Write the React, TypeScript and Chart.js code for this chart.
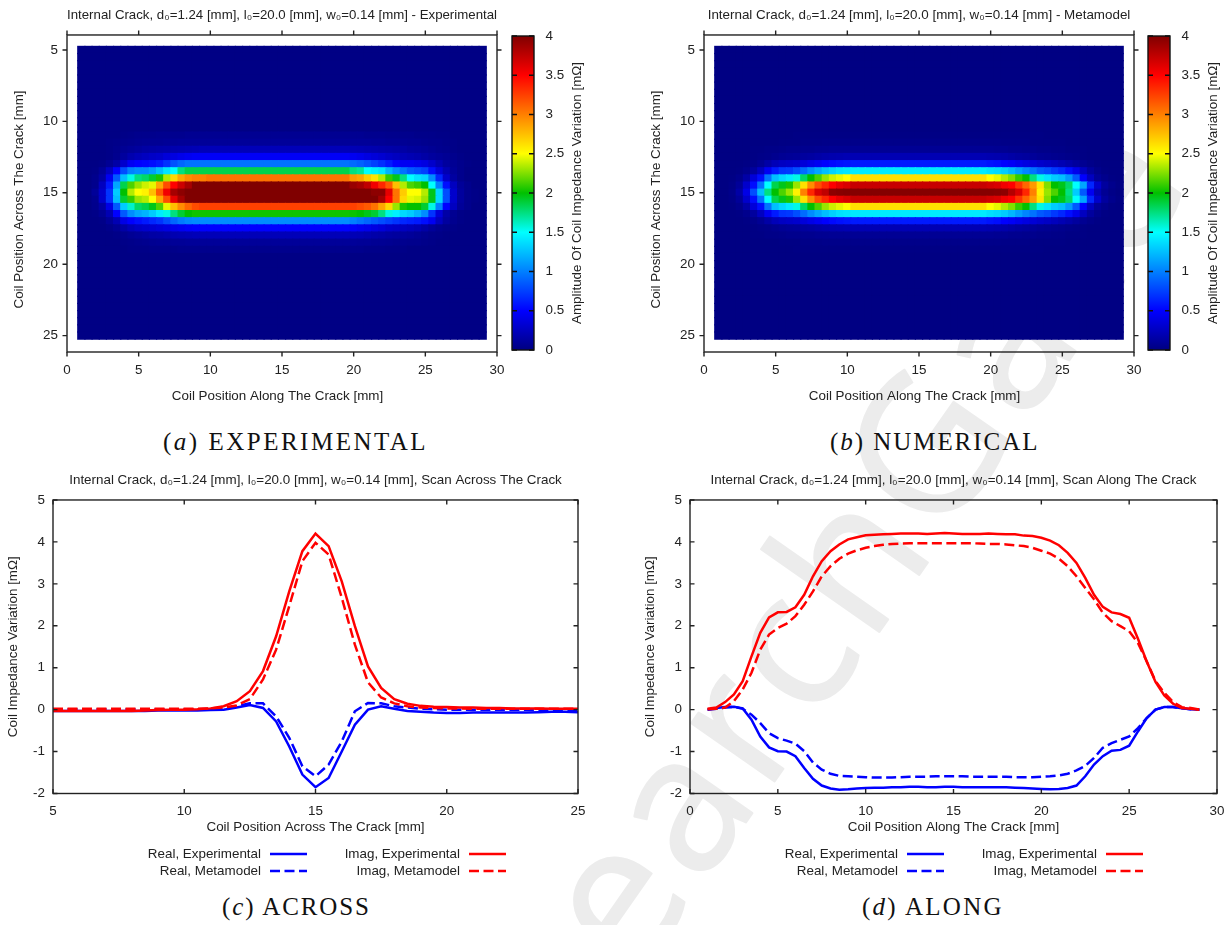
import React, { useEffect, useRef } from "react";
import { Chart, registerables } from "chart.js";

Chart.register(...registerables);

// ---------- heat map values [mΩ] ----------
const heatX = [1,1.5,2,2.5,3,3.5,4,4.5,5,5.5,6,6.5,7,7.5,8,8.5,9,9.5,10,10.5,11,11.5,12,12.5,13,13.5,14,14.5,15,15.5,16,16.5,17,17.5,18,18.5,19,19.5,20,20.5,21,21.5,22,22.5,23,23.5,24,24.5,25,25.5,26,26.5,27,27.5,28,28.5,29];
const heatY = [5,5.5,6,6.5,7,7.5,8,8.5,9,9.5,10,10.5,11,11.5,12,12.5,13,13.5,14,14.5,15,15.5,16,16.5,17,17.5,18,18.5,19,19.5,20,20.5,21,21.5,22,22.5,23,23.5,24,24.5,25];
const bandY = [11,11.5,12,12.5,13,13.5,14,14.5,15,15.5,16,16.5,17,17.5,18,18.5,19];
const expBackground = 0.02;
const simBackground = 0.01;

const expLeft = [
  [.02,.02,.02,.02,.02,.02,.03,.04,.05,.05,.05,.06,.06,.06,.06,.07,.07,.07,.07],
  [.02,.02,.02,.02,.03,.04,.05,.06,.07,.08,.08,.08,.09,.09,.1,.1,.1,.1,.1],
  [.02,.02,.02,.02,.03,.05,.08,.1,.12,.14,.15,.16,.17,.18,.19,.2,.21,.22,.22],
  [.02,.02,.02,.02,.03,.06,.12,.18,.22,.25,.28,.3,.35,.38,.42,.45,.47,.47,.47],
  [.02,.02,.02,.03,.08,.15,.3,.45,.5,.52,.55,.6,.7,.82,.9,.95,.95,.95,.95],
  [.02,.02,.03,.1,.25,.5,.8,1,1.05,1.05,1.12,1.25,1.4,1.5,1.75,1.85,1.85,1.85,1.85],
  [.02,.02,.05,.15,.45,.85,1.25,1.55,1.75,1.8,1.9,2.05,2.35,2.65,2.85,2.95,3,3,3.05],
  [.02,.02,.05,.25,.6,1.15,1.85,2.15,2.3,2.4,2.45,2.85,3.2,3.5,3.7,3.85,4,4,4],
  [.02,.02,.1,.3,.7,1.3,2,2.35,2.5,2.55,2.75,3.15,3.55,3.85,3.95,4,4,4,4],
  [.02,.02,.06,.3,.7,1.25,1.9,2.1,2.3,2.35,2.5,2.85,3.2,3.6,3.85,4,4,4,4],
  [.02,.02,.05,.15,.4,.85,1.3,1.6,1.8,1.85,1.95,2.15,2.45,2.75,2.95,3.1,3.2,3.25,3.25],
  [.02,.02,.03,.08,.2,.5,.85,1.05,1.15,1.2,1.3,1.42,1.55,1.75,1.9,2,2.03,2.03,2.03],
  [.02,.02,.02,.03,.1,.2,.4,.5,.55,.6,.65,.7,.8,.9,.98,1.03,1.05,1.05,1.05],
  [.02,.02,.02,.02,.04,.08,.15,.22,.27,.3,.32,.35,.38,.42,.45,.48,.5,.5,.5],
  [.02,.02,.02,.02,.02,.03,.05,.08,.1,.12,.14,.15,.17,.19,.2,.21,.22,.22,.22],
  [.02,.02,.02,.02,.02,.02,.03,.04,.05,.06,.07,.08,.08,.09,.09,.1,.1,.1,.1],
  [.02,.02,.02,.02,.02,.02,.02,.03,.03,.03,.04,.04,.04,.04,.05,.05,.05,.05,.05],
];
const expPlateau = [.07,.1,.22,.47,.95,1.85,3.05,4,4,4,3.25,2.03,1.05,.5,.22,.1,.05];
const expRight = [
  [.07,.07,.06,.06,.06,.05,.05,.05,.05,.04,.04,.04,.03,.03,.02,.02,.02,.02,.02],
  [.1,.1,.1,.09,.09,.08,.08,.08,.07,.07,.06,.05,.05,.04,.03,.02,.02,.02,.02],
  [.21,.2,.19,.18,.17,.16,.15,.14,.12,.11,.1,.08,.06,.05,.03,.02,.02,.02,.02],
  [.45,.42,.38,.35,.32,.28,.25,.22,.2,.18,.15,.12,.1,.08,.05,.03,.02,.02,.02],
  [.92,.88,.82,.75,.68,.6,.5,.45,.45,.42,.38,.3,.2,.12,.08,.05,.03,.02,.02],
  [1.75,1.7,1.5,1.45,1.4,1.2,1.05,.95,.85,.8,.75,.55,.35,.2,.1,.05,.02,.02,.02],
  [2.9,2.85,2.7,2.6,2.35,2.1,1.95,1.75,1.5,1.4,1.35,1.05,.65,.3,.13,.05,.02,.02,.02],
  [3.9,3.85,3.75,3.55,3.35,3.15,2.75,2.35,2.15,2.1,2,1.5,1,.55,.25,.1,.05,.02,.02],
  [4,4,4,3.95,3.95,3.6,3.05,2.7,2.5,2.5,2.35,1.95,1.35,.8,.3,.12,.05,.03,.02],
  [4,4,4,4,3.85,3.5,3.05,2.65,2.45,2.42,2.3,1.95,1.35,.8,.3,.12,.05,.03,.02],
  [3.25,3.2,3.15,3.05,2.85,2.65,2.3,2.05,2,2,1.9,1.55,1,.5,.25,.1,.05,.02,.02],
  [2.02,2,1.95,1.9,1.75,1.55,1.45,1.35,1.3,1.2,1.05,.7,.35,.15,.07,.03,.02,.02,.02],
  [1,.95,.9,.85,.8,.75,.7,.65,.62,.6,.55,.45,.25,.12,.06,.03,.02,.02,.02],
  [.48,.45,.42,.38,.35,.3,.28,.25,.23,.2,.15,.1,.06,.04,.03,.02,.02,.02,.02],
  [.21,.2,.18,.16,.15,.13,.12,.11,.1,.08,.06,.04,.03,.02,.02,.02,.02,.02,.02],
  [.1,.09,.09,.08,.08,.07,.06,.06,.05,.05,.04,.03,.02,.02,.02,.02,.02,.02,.02],
  [.05,.05,.04,.04,.04,.03,.03,.03,.02,.02,.02,.02,.02,.02,.02,.02,.02,.02,.02],
];

const simLeft = [
  [.01,.01,.01,.01,.01,.01,.01,.01,.01,.01,.01,.02,.02,.02,.02,.02,.02,.02,.02],
  [.01,.01,.01,.01,.01,.01,.01,.01,.01,.02,.02,.02,.03,.03,.03,.04,.04,.04,.04],
  [.01,.01,.01,.01,.01,.02,.02,.03,.03,.04,.05,.05,.06,.06,.07,.07,.08,.08,.08],
  [.01,.01,.01,.01,.01,.02,.03,.04,.06,.08,.09,.1,.12,.13,.15,.17,.18,.19,.2],
  [.01,.01,.01,.01,.02,.04,.08,.15,.22,.26,.28,.3,.35,.4,.45,.5,.53,.56,.58],
  [.01,.01,.01,.02,.05,.12,.25,.45,.6,.7,.72,.8,.92,1.05,1.15,1.25,1.32,1.38,1.4],
  [.01,.01,.02,.05,.15,.35,.55,.95,1.25,1.35,1.42,1.55,1.8,2,2.15,2.3,2.4,2.45,2.5],
  [.01,.01,.03,.1,.3,.55,.95,1.5,1.85,1.95,2.05,2.3,2.62,2.95,3.2,3.35,3.5,3.6,3.65],
  [.01,.01,.04,.15,.4,.8,1.25,1.75,2,2.15,2.3,2.55,3,3.35,3.65,3.75,3.95,3.97,3.98],
];
const simPlateau = [.02,.04,.08,.2,.6,1.42,2.62,3.72,3.98];
const simRight = [
  [.02,.02,.02,.02,.02,.02,.02,.02,.01,.01,.01,.01,.01,.01,.01,.01,.01,.01,.01],
  [.04,.04,.03,.03,.03,.03,.02,.02,.02,.02,.02,.01,.01,.01,.01,.01,.01,.01,.01],
  [.08,.07,.07,.06,.06,.05,.05,.04,.04,.03,.03,.02,.02,.02,.01,.01,.01,.01,.01],
  [.19,.18,.17,.15,.13,.12,.1,.08,.07,.06,.05,.04,.03,.02,.01,.01,.01,.01,.01],
  [.57,.55,.5,.47,.42,.38,.34,.3,.27,.24,.2,.16,.12,.07,.04,.02,.01,.01,.01],
  [1.38,1.35,1.3,1.22,1.12,1.02,.95,.85,.8,.72,.65,.55,.42,.25,.12,.05,.02,.01,.01],
  [2.5,2.45,2.35,2.25,2.1,2,1.75,1.55,1.4,1.3,1.25,1.1,.85,.5,.25,.1,.05,.02,.01],
  [3.68,3.65,3.55,3.5,3.3,3.1,2.9,2.6,2.25,2,1.95,1.8,1.5,1.15,.65,.3,.12,.05,.02],
  [3.98,3.97,3.95,3.8,3.65,3.35,3,2.55,2.3,2.15,2,1.75,1.3,.85,.45,.2,.08,.03,.01],
];

// ---------- line charts ----------
const acrossX = [5,5.5,6,6.5,7,7.5,8,8.5,9,9.5,10,10.5,11,11.5,12,12.5,13,13.5,14,14.5,15,15.5,16,16.5,17,17.5,18,18.5,19,19.5,20,20.5,21,21.5,22,22.5,23,23.5,24,24.5,25];
const acrossRealExp = [-.03,-.03,-.03,-.03,-.03,-.03,-.03,-.03,-.02,-.02,-.02,-.02,-.01,0,.05,.11,.04,-.28,-.88,-1.55,-1.85,-1.63,-1,-.36,0,.08,.02,-.03,-.05,-.07,-.08,-.08,-.07,-.07,-.07,-.07,-.07,-.06,-.05,-.05,-.06];
const acrossRealMeta = [.01,.01,.01,.01,.01,.01,.01,.01,.01,.01,.01,.01,.02,.03,.08,.15,.15,-.16,-.67,-1.35,-1.59,-1.31,-.76,-.04,.16,.15,.08,.05,.02,.01,0,0,0,0,0,0,0,0,0,0,0];
const acrossImagExp = [-.03,-.03,-.03,-.03,-.03,-.03,-.03,-.02,-.01,0,0,.01,.03,.08,.2,.44,.92,1.75,2.82,3.78,4.2,3.9,3.06,1.99,1.03,.52,.25,.14,.09,.07,.06,.05,.05,.04,.04,.03,.03,.03,.02,.02,.02];
const acrossImagMeta = [.02,.02,.02,.02,.02,.02,.02,.02,.02,.02,.02,.02,.03,.05,.1,.25,.72,1.43,2.47,3.54,3.98,3.7,2.67,1.55,.65,.29,.15,.08,.05,.04,.03,.03,.02,.02,.02,.02,.02,.02,.02,.02,.02];

const alongX = [1,1.5,2,2.5,3,3.5,4,4.5,5,5.5,6,6.5,7,7.5,8,8.5,9,9.5,10,10.5,11,11.5,12,12.5,13,13.5,14,14.5,15,15.5,16,16.5,17,17.5,18,18.5,19,19.5,20,20.5,21,21.5,22,22.5,23,23.5,24,24.5,25,25.5,26,26.5,27,27.5,28,28.5,29];
const alongRealExp = [0,.04,.06,.07,.03,-.24,-.64,-.9,-.99,-1,-1.11,-1.39,-1.65,-1.81,-1.88,-1.91,-1.9,-1.88,-1.87,-1.86,-1.86,-1.85,-1.85,-1.84,-1.84,-1.85,-1.85,-1.84,-1.84,-1.85,-1.85,-1.85,-1.85,-1.85,-1.85,-1.86,-1.87,-1.88,-1.89,-1.9,-1.89,-1.87,-1.81,-1.59,-1.31,-1.11,-.98,-.96,-.86,-.52,-.2,0,.06,.06,.03,.01,0];
const alongRealMeta = [0,.02,.05,.07,.02,-.12,-.32,-.56,-.68,-.74,-.81,-.99,-1.26,-1.43,-1.53,-1.58,-1.59,-1.6,-1.61,-1.62,-1.62,-1.62,-1.61,-1.6,-1.6,-1.6,-1.59,-1.59,-1.59,-1.59,-1.6,-1.6,-1.6,-1.6,-1.6,-1.61,-1.61,-1.61,-1.6,-1.59,-1.57,-1.53,-1.45,-1.34,-1.15,-.91,-.8,-.72,-.64,-.44,-.2,0,.06,.06,.03,.01,0];
const alongImagExp = [.02,.05,.18,.36,.68,1.27,1.83,2.2,2.32,2.33,2.44,2.74,3.18,3.54,3.78,3.94,4.06,4.11,4.16,4.17,4.18,4.19,4.2,4.2,4.2,4.19,4.2,4.21,4.2,4.19,4.19,4.19,4.2,4.19,4.18,4.18,4.15,4.14,4.1,4.03,3.92,3.74,3.5,3.14,2.74,2.45,2.32,2.28,2.19,1.69,1.15,.66,.34,.14,.04,.02,0];
const alongImagMeta = [.01,.02,.05,.2,.48,.88,1.43,1.79,1.95,2.05,2.23,2.5,2.82,3.18,3.42,3.6,3.72,3.8,3.86,3.9,3.93,3.95,3.96,3.97,3.97,3.97,3.97,3.97,3.97,3.97,3.97,3.96,3.95,3.95,3.94,3.92,3.9,3.86,3.79,3.72,3.6,3.42,3.18,2.9,2.63,2.31,2.11,1.99,1.87,1.59,1.15,.68,.4,.18,.06,.04,0];

// ---------- ticks and labels ----------
const heatXTicks = [0,5,10,15,20,25,30];
const heatYTicks = [5,10,15,20,25];
const barTicks = [0,.5,1,1.5,2,2.5,3,3.5,4];
const acrossXTicks = [5,10,15,20,25];
const alongXTicks = [0,5,10,15,20,25,30];
const lineYTicks = [-2,-1,0,1,2,3,4,5];
const seriesLabels = ["Real, Experimental","Real, Metamodel","Imag, Experimental","Imag, Metamodel"];
const seriesColors = ["#0000ff","#0000ff","#ff0000","#ff0000"];

const paletteStops: [number, number[]][] = [
  [0,[0,0,128]],[.5,[0,0,255]],[1.5,[0,255,255]],[2,[0,192,0]],[2.5,[255,255,0]],[3.5,[255,0,0]],[4,[128,0,0]],
];

const FONT = "'Liberation Sans', Arial, sans-serif";
const INK = "#222222";
const TICK_SIZE = 13.4;

function paletteColor(v: number) {
  const c = Math.max(0, Math.min(4, v));
  for (let k = 1; k < paletteStops.length; k++) {
    const [a, ca] = paletteStops[k - 1];
    const [b, cb] = paletteStops[k];
    if (c <= b) {
      const t = (c - a) / (b - a);
      const m = ca.map((q, n) => Math.round(q + (cb[n] - q) * t));
      return `rgb(${m[0]},${m[1]},${m[2]})`;
    }
  }
  return "rgb(128,0,0)";
}

function buildCells(left: number[][], plateau: number[], right: number[][], rows: number[], bg: number) {
  const cells: { x: number; y: number }[] = [];
  const colors: string[] = [];
  heatY.forEach((y) => {
    const r = rows.indexOf(y);
    heatX.forEach((x, i) => {
      let v = bg;
      if (r >= 0) {
        if (i < 19) v = left[r][i];
        else if (i < 38) v = plateau[r];
        else v = right[r][i - 38];
      }
      cells.push({ x, y });
      colors.push(paletteColor(v));
    });
  });
  return { cells, colors };
}

const mirror = (a: any[]) => [...a, ...a.slice(0, -1).reverse()];

// frame and tick marks on all four sides
const framePlugin = {
  id: "frame",
  afterDraw(chart: any, _args: any, opts: any) {
    const { ctx, chartArea: a, scales } = chart;
    const len = opts.length ?? 4.5;
    const dir = opts.direction === "out" ? -1 : 1;
    ctx.save();
    ctx.strokeStyle = opts.color ?? INK;
    ctx.lineWidth = 1.4;
    ctx.strokeRect(a.left, a.top, a.right - a.left, a.bottom - a.top);
    ctx.beginPath();
    if (opts.xTicks !== false) {
      scales.x.ticks.forEach((t: any) => {
        const p = scales.x.getPixelForValue(t.value);
        ctx.moveTo(p, a.bottom);
        ctx.lineTo(p, a.bottom - dir * len);
        ctx.moveTo(p, a.top);
        ctx.lineTo(p, a.top + dir * len);
      });
    }
    scales.y.ticks.forEach((t: any) => {
      const p = scales.y.getPixelForValue(t.value);
      ctx.moveTo(a.left, p);
      ctx.lineTo(a.left + dir * len, p);
      ctx.moveTo(a.right, p);
      ctx.lineTo(a.right - dir * len, p);
    });
    ctx.stroke();
    ctx.restore();
  },
};

// gnuplot style key: text on the left, line sample on the right
const keyPlugin = {
  id: "key",
  afterDraw(chart: any) {
    const { ctx, chartArea: a } = chart;
    ctx.save();
    ctx.font = `${TICK_SIZE}px ${FONT}`;
    ctx.textAlign = "right";
    ctx.textBaseline = "middle";
    chart.data.datasets.forEach((d: any, i: number) => {
      const col = i < 2 ? 208 : 407;
      const y = a.bottom + 60.5 + (i % 2) * 17;
      const x = a.left + col;
      ctx.fillStyle = INK;
      ctx.fillText(d.label, x, y);
      ctx.beginPath();
      ctx.strokeStyle = d.borderColor;
      ctx.lineWidth = d.borderWidth;
      ctx.setLineDash(d.borderDash ?? []);
      ctx.moveTo(x + 9, y);
      ctx.lineTo(x + 46, y);
      ctx.stroke();
      ctx.setLineDash([]);
    });
    ctx.restore();
  },
};

// the colour bar's title reads upward, which Chart.js's right axis title doesn't do
const barTitlePlugin = {
  id: "barTitle",
  afterDraw(chart: any, _args: any, opts: any) {
    const { ctx, chartArea: a } = chart;
    ctx.save();
    ctx.font = `${TICK_SIZE}px ${FONT}`;
    ctx.fillStyle = INK;
    ctx.textAlign = "center";
    ctx.textBaseline = "middle";
    ctx.translate(a.left + 65, (a.top + a.bottom) / 2);
    ctx.rotate(-Math.PI / 2);
    ctx.fillText(opts.text, 0, 0);
    ctx.restore();
  },
};

// heat map axis titles sit a little off the frame centre, which scale titles can't do
const heatAxisTitlePlugin = {
  id: "heatAxisTitles",
  afterDraw(chart: any, _args: any, opts: any) {
    const { ctx, chartArea: a } = chart;
    ctx.save();
    ctx.font = `${TICK_SIZE}px ${FONT}`;
    ctx.fillStyle = INK;
    ctx.textAlign = "center";
    ctx.textBaseline = "middle";
    ctx.fillText(opts.xText, (a.left + a.right) / 2 - 4.5, a.bottom + 44);
    ctx.translate(a.left - 48, (a.top + a.bottom) / 2 + 6);
    ctx.rotate(-Math.PI / 2);
    ctx.fillText(opts.yText, 0, 0);
    ctx.restore();
  },
};

const tickFont = { family: FONT, size: TICK_SIZE };
const axisTitle = (text: string, padding: any) => ({
  display: true, text, color: INK, font: { family: FONT, size: TICK_SIZE }, padding,
});
const chartTitle = (text: string) => ({
  display: true, fullSize: false, text, color: INK, font: { family: FONT, size: TICK_SIZE, lineHeight: 1.2, weight: "normal" },
  padding: { top: 7.4, bottom: 11.5 },
});

function heatChart(canvas: HTMLCanvasElement, title: string, data: { cells: any[]; colors: string[] }) {
  return new Chart(canvas, {
    type: "scatter",
    data: {
      datasets: [{
        data: data.cells,
        pointStyle: "rect",
        pointRadius: 5.9,
        pointHoverRadius: 5.9,
        pointBorderWidth: 0,
        pointBackgroundColor: data.colors,
      }],
    },
    options: {
      responsive: false,
      animation: false,
      events: [],
      layout: { padding: { right: 67 } },
      plugins: {
        legend: { display: false }, tooltip: { enabled: false },
        title: chartTitle(title),
        frame: { direction: "out" },
        heatAxisTitles: { xText: "Coil Position Along The Crack [mm]", yText: "Coil Position Across The Crack [mm]" },
      } as any,
      scales: {
        x: {
          type: "linear", min: 0, max: 30,
          afterBuildTicks: (s: any) => { s.ticks = heatXTicks.map((value) => ({ value })); },
          afterFit: (s: any) => { s.height = 58; },
          grid: { display: false }, border: { display: false },
          ticks: { font: tickFont, color: INK, padding: 2.5, maxRotation: 0, autoSkip: false, callback: (v: any) => String(v) },
        },
        y: {
          type: "linear", min: 3.95, max: 26.15, reverse: true,
          afterBuildTicks: (s: any) => { s.ticks = heatYTicks.map((value) => ({ value })); },
          afterFit: (s: any) => { s.width = 67; },
          grid: { display: false }, border: { display: false },
          ticks: { font: tickFont, color: INK, padding: 1, autoSkip: false, callback: (v: any) => String(v) },
        },
      },
    } as any,
    plugins: [framePlugin, heatAxisTitlePlugin],
  });
}

function barChart(canvas: HTMLCanvasElement) {
  return new Chart(canvas, {
    type: "bar",
    data: {
      labels: [""],
      datasets: [{
        data: [[barTicks[0], barTicks[barTicks.length - 1]]] as any,
        barPercentage: 1,
        categoryPercentage: 1,
        backgroundColor: (c: any) => {
          const a = c.chart.chartArea;
          if (!a) return "#000080";
          const g = c.chart.ctx.createLinearGradient(0, a.bottom, 0, a.top);
          paletteStops.forEach(([v, m]) => g.addColorStop(v / 4, `rgb(${m[0]},${m[1]},${m[2]})`));
          return g;
        },
      }],
    },
    options: {
      responsive: false,
      animation: false,
      events: [],
      layout: { padding: { left: 12, top: 36, bottom: 10 } },
      plugins: {
        legend: { display: false }, tooltip: { enabled: false }, title: { display: false },
        frame: { direction: "in", xTicks: false, length: 5, color: "#111111" },
        barTitle: { text: "Amplitude Of Coil Impedance Variation [mΩ]" },
      } as any,
      scales: {
        x: { display: false },
        y: {
          position: "right", min: 0, max: 4,
          afterBuildTicks: (s: any) => { s.ticks = barTicks.map((value) => ({ value })); },
          afterFit: (s: any) => { s.width = 66; s.paddingTop = 0; s.paddingBottom = 0; },
          grid: { display: false }, border: { display: false },
          ticks: { font: tickFont, color: INK, padding: 3.5, autoSkip: false, callback: (v: any) => String(v) },
        },
      },
    } as any,
    plugins: [framePlugin, barTitlePlugin],
  });
}

function scanChart(canvas: HTMLCanvasElement, opts: {
  title: string; xTitle: string; xs: number[]; series: number[][]; xMin: number; xMax: number; xTicks: number[]; right: number;
}) {
  return new Chart(canvas, {
    type: "scatter",
    data: {
      datasets: opts.series.map((vals, i) => ({
        label: seriesLabels[i],
        data: opts.xs.map((x, k) => ({ x, y: vals[k] })),
        showLine: true,
        borderColor: seriesColors[i],
        backgroundColor: seriesColors[i],
        borderWidth: 2.5,
        borderDash: i % 2 ? [10, 4.5] : [],
        pointRadius: 0,
        tension: 0,
        order: 4 - i,
      })),
    },
    options: {
      responsive: false,
      animation: false,
      events: [],
      layout: { padding: { right: opts.right } },
      plugins: {
        legend: { display: false }, tooltip: { enabled: false },
        title: chartTitle(opts.title),
        frame: { direction: "in" },
      } as any,
      scales: {
        x: {
          type: "linear", min: opts.xMin, max: opts.xMax,
          afterBuildTicks: (s: any) => { s.ticks = opts.xTicks.map((value) => ({ value })); },
          afterFit: (s: any) => { s.height = 96.5; },
          grid: { display: false }, border: { display: false },
          ticks: { font: tickFont, color: INK, padding: 2, maxRotation: 0, autoSkip: false, callback: (v: any) => String(v) },
          title: axisTitle(opts.xTitle, { top: 0, bottom: 55 }),
        },
        y: {
          type: "linear", min: -2, max: 5,
          afterBuildTicks: (s: any) => { s.ticks = lineYTicks.map((value) => ({ value })); },
          afterFit: (s: any) => { s.width = 53; },
          grid: { display: false }, border: { display: false },
          ticks: { font: tickFont, color: INK, padding: 0, autoSkip: false, callback: (v: any) => String(v) },
          title: axisTitle("Coil Impedance Variation [mΩ]", { top: 5, bottom: 0 }),
        },
      },
    } as any,
    plugins: [framePlugin, keyPlugin],
  });
}

const captionStyle = (left: number, top: number, spacing: number): React.CSSProperties => ({
  position: "absolute", left, top, whiteSpace: "nowrap",
  fontFamily: "'Liberation Serif', serif", fontSize: 25, lineHeight: "30px", color: "#111", letterSpacing: spacing,
});
const canvasStyle = (left: number, top: number): React.CSSProperties => ({ position: "absolute", left, top, display: "block" });

export default function App() {
  const a = useRef<HTMLCanvasElement>(null);
  const aBar = useRef<HTMLCanvasElement>(null);
  const b = useRef<HTMLCanvasElement>(null);
  const bBar = useRef<HTMLCanvasElement>(null);
  const c = useRef<HTMLCanvasElement>(null);
  const d = useRef<HTMLCanvasElement>(null);

  useEffect(() => {
    const exp = buildCells(expLeft, expPlateau, expRight, bandY, expBackground);
    const sim = buildCells(mirror(simLeft), mirror(simPlateau), mirror(simRight), bandY, simBackground);
    const charts = [
      heatChart(a.current!, "Internal Crack, d₀=1.24 [mm], l₀=20.0 [mm], w₀=0.14 [mm] - Experimental", exp),
      barChart(aBar.current!),
      heatChart(b.current!, "Internal Crack, d₀=1.24 [mm], l₀=20.0 [mm], w₀=0.14 [mm] - Metamodel", sim),
      barChart(bBar.current!),
      scanChart(c.current!, {
        title: "Internal Crack, d₀=1.24 [mm], l₀=20.0 [mm], w₀=0.14 [mm], Scan Across The Crack",
        xTitle: "Coil Position Across The Crack [mm]", xs: acrossX,
        series: [acrossRealExp, acrossRealMeta, acrossImagExp, acrossImagMeta],
        xMin: 5, xMax: 25, xTicks: acrossXTicks, right: 53,
      }),
      scanChart(d.current!, {
        title: "Internal Crack, d₀=1.24 [mm], l₀=20.0 [mm], w₀=0.14 [mm], Scan Along The Crack",
        xTitle: "Coil Position Along The Crack [mm]", xs: alongX,
        series: [alongRealExp, alongRealMeta, alongImagExp, alongImagMeta],
        xMin: 0, xMax: 30, xTicks: alongXTicks, right: 53,
      }),
    ];
    return () => charts.forEach((ch) => ch.destroy());
  }, []);

  return (
    <div style={{ position: "absolute", left: 0, top: 0, width: 1232, height: 925, overflow: "hidden", background: "#fff" }}>
      <svg width={1232} height={925} style={{ position: "absolute", left: 0, top: 0 }} aria-hidden="true">
        <text x={443} y={1255} transform="rotate(-55 443 1255)" fill="#ececec" stroke="#ececec" strokeWidth={2} strokeLinejoin="round"
          fontFamily="'Open Sans', sans-serif" fontSize={190} letterSpacing={7}>ResearchGate</text>
      </svg>
      <canvas ref={a} width={564} height={410} style={canvasStyle(0, 0)} />
      <canvas ref={aBar} width={100} height={360} style={canvasStyle(500, 0)} />
      <canvas ref={b} width={564} height={410} style={canvasStyle(637, 0)} />
      <canvas ref={bBar} width={100} height={360} style={canvasStyle(1136, 0)} />
      <canvas ref={c} width={631} height={425} style={canvasStyle(0, 465)} />
      <canvas ref={d} width={633} height={425} style={canvasStyle(637, 465)} />
      <div style={captionStyle(163, 427, 2.5)}>(<i>a</i>) EXPERIMENTAL</div>
      <div style={captionStyle(830, 427, 1.95)}>(<i>b</i>) NUMERICAL</div>
      <div style={captionStyle(222, 892, 1.9)}>(<i>c</i>) ACROSS</div>
      <div style={captionStyle(862, 892, 2.25)}>(<i>d</i>) ALONG</div>
    </div>
  );
}
